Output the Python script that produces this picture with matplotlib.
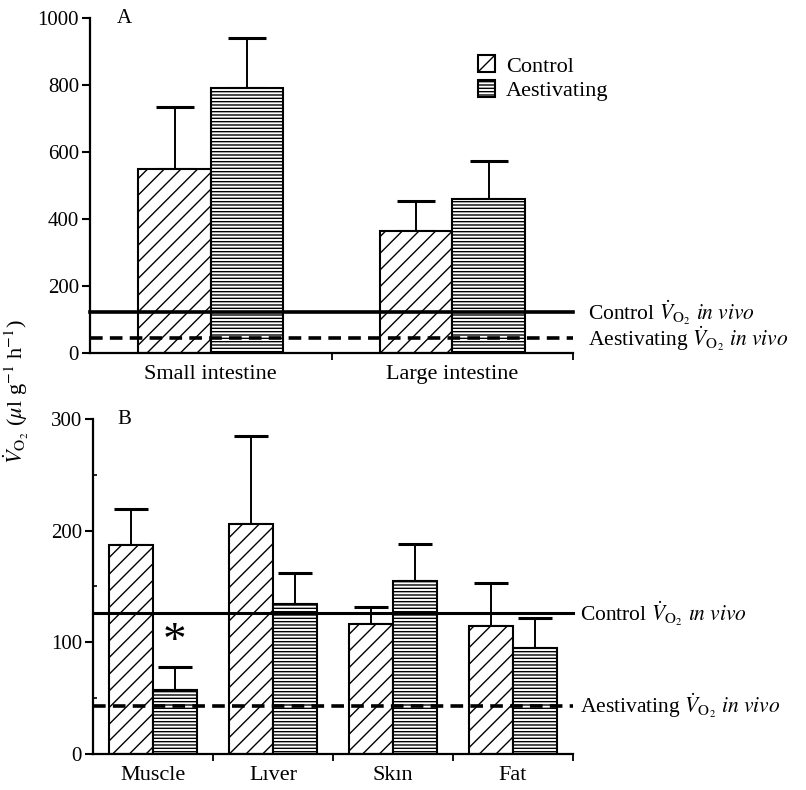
import matplotlib
matplotlib.use("Agg")
import matplotlib.pyplot as plt
import numpy as np
from matplotlib.patches import Patch

plt.rcParams["font.family"] = ["Liberation Serif", "DejaVu Serif"]
plt.rcParams["mathtext.fontset"] = "stix"
plt.rcParams["hatch.linewidth"] = 1.0

# ---------------------------------------------------------------------------
# data
# ---------------------------------------------------------------------------
gut_tissues = ["Small intestine", "Large intestine"]
gut_control = [548, 365]
gut_control_err = [733, 455]
gut_aest = [792, 461]
gut_aest_err = [940, 573]

body_tissues = ["Muscle", "Lıver", "Skın", "Fat"]
body_control = [187, 206, 116, 115]
body_control_err = [219, 285, 132, 153]
body_aest = [57, 134, 155, 95]
body_aest_err = [78, 162, 188, 122]

# whole-animal rates (horizontal reference lines)
gut_line_control, gut_line_aest = 122, 44
body_line_control, body_line_aest = 126, 43

significant = [True, False, False, False]  # aestivating vs control

VO2 = r"$\dot{V}_{\mathrm{O}_2}$"
LINE_LABEL_CTRL_A = "Control " + VO2 + r" $\mathit{in\ vivo}$"
LINE_LABEL_AEST = "Aestivating " + VO2 + r" $\mathit{in\ vivo}$"
LINE_LABEL_CTRL_B = "Control " + VO2 + r" $\mathit{\imath n\ vivo}$"

CTRL_HATCH = "//"
AEST_HATCH = "-----"


def draw_panel(ax, labels, ctrl, ctrl_err, aest, aest_err, width, capsize):
    x = np.arange(len(labels))
    ax.bar(x - width / 2, ctrl, width, color="white", edgecolor="black",
           hatch=CTRL_HATCH, linewidth=1.5, zorder=2)
    ax.bar(x + width / 2, aest, width, color="white", edgecolor="black",
           hatch=AEST_HATCH, linewidth=1.5, zorder=2)
    for xs, v, e in [(x - width / 2, ctrl, ctrl_err), (x + width / 2, aest, aest_err)]:
        v = np.array(v)
        e = np.array(e)
        ax.errorbar(xs, v, yerr=[np.zeros_like(v), e - v], fmt="none",
                    ecolor="black", elinewidth=1.4, capsize=capsize,
                    capthick=2.2, zorder=1)
    ax.set_xlim(-0.5, len(labels) - 0.5)
    ax.set_xticks(x)
    ax.set_xticklabels(labels, fontsize=16)
    ax.tick_params(axis="x", which="major", length=0, pad=9)
    ax.set_xticks(np.arange(len(labels)) + 0.5, minor=True)
    ax.tick_params(axis="x", which="minor", length=5, width=1.3, direction="out")
    ax.tick_params(axis="y", which="major", length=6, width=1.5, labelsize=15, pad=2)
    for s in ["top", "right"]:
        ax.spines[s].set_visible(False)
    for s in ["left", "bottom"]:
        ax.spines[s].set_linewidth(1.6)


fig = plt.figure(figsize=(8.06, 7.90), dpi=100)
axA = fig.add_axes([0.1117, 0.5532, 0.5993, 0.424])
axB = fig.add_axes([0.1154, 0.0456, 0.5956, 0.424])

# panel A
draw_panel(axA, gut_tissues, gut_control, gut_control_err, gut_aest, gut_aest_err,
           width=0.30, capsize=14)
axA.set_ylim(0, 1000)
axA.set_yticks(np.arange(0, 1001, 200))
axA.axhline(gut_line_control, color="black", lw=2.6, zorder=3, clip_on=False)
axA.axhline(gut_line_aest, color="black", lw=2.6, ls=(0, (3.5, 2)), zorder=3, clip_on=False)
trA = axA.get_yaxis_transform()
axA.text(1.03, gut_line_control, LINE_LABEL_CTRL_A, transform=trA, fontsize=15.5,
         va="center", ha="left")
axA.text(1.03, gut_line_aest, LINE_LABEL_AEST, transform=trA, fontsize=15.5,
         va="center", ha="left")
axA.text(0.055, 1.0, "A", transform=axA.transAxes, fontsize=15, va="center")

legend_handles = [
    Patch(facecolor="white", edgecolor="black", hatch=CTRL_HATCH, linewidth=1.5, label="Control"),
    Patch(facecolor="white", edgecolor="black", hatch=AEST_HATCH, linewidth=1.5, label="Aestivating"),
]
axA.legend(handles=legend_handles, loc="upper left", bbox_to_anchor=(0.785, 0.915),
           frameon=False, fontsize=16, handlelength=0.75, handleheight=0.8,
           handletextpad=0.5, labelspacing=0.15, borderaxespad=0)

# panel B
draw_panel(axB, body_tissues, body_control, body_control_err, body_aest, body_aest_err,
           width=0.365, capsize=12)
axB.set_ylim(0, 300)
axB.set_yticks(np.arange(0, 301, 100))
axB.set_yticks([50, 150, 250], minor=True)
axB.tick_params(axis="y", which="minor", length=3, width=1.2, direction="in")
axB.axhline(body_line_control, color="black", lw=2.2, zorder=3, clip_on=False)
axB.axhline(body_line_aest, color="black", lw=2.6, ls=(0, (3.5, 2)), zorder=3, clip_on=False)
trB = axB.get_yaxis_transform()
axB.text(1.015, body_line_control, LINE_LABEL_CTRL_B, transform=trB, fontsize=15.5,
         va="center", ha="left")
axB.text(1.015, body_line_aest, LINE_LABEL_AEST, transform=trB, fontsize=15.5,
         va="center", ha="left")
axB.text(0.05, 1.0, "B", transform=axB.transAxes, fontsize=15, va="center")

# significance marker above the error bar
for i, sig in enumerate(significant):
    if sig:
        axB.text(i + 0.365 / 2, body_aest_err[i] + 22, "*", fontsize=34,
                 ha="center", va="center")

fig.text(0.02, 0.505, VO2 + r" ($\mu$l g$^{-1}$ h$^{-1}$)", rotation=90,
         fontsize=16, ha="center", va="center")

fig.savefig("out.png", dpi=100)
